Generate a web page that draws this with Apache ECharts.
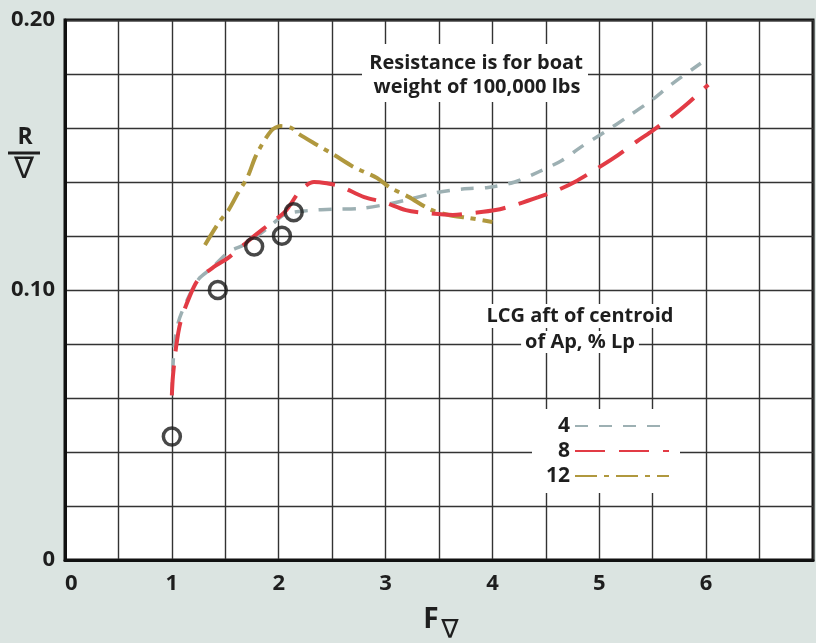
<!DOCTYPE html>
<html>
<head>
<meta charset="utf-8">
<script src="https://cdn.jsdelivr.net/npm/echarts@6/dist/echarts.min.js"></script>
<style>
  html, body { margin: 0; padding: 0; background: #dbe4e1; }
  #main { width: 816px; height: 643px; }
</style>
</head>
<body>
<div id="main"></div>
<script>
// LCG aft of centroid = 4 % Lp
var lcg4 = [[1.0, 0.061], [1.02, 0.078], [1.06, 0.088], [1.14, 0.096], [1.25, 0.104], [1.37, 0.108],
  [1.53, 0.114], [1.69, 0.117], [1.90, 0.123], [2.06, 0.128], [2.27, 0.1294], [2.52, 0.1299],
  [2.76, 0.1302], [2.98, 0.1315], [3.19, 0.1333], [3.47, 0.136], [3.72, 0.1374], [3.96, 0.138],
  [4.21, 0.140], [4.43, 0.1437], [4.65, 0.148], [4.83, 0.153], [5.05, 0.1585], [5.26, 0.164],
  [5.48, 0.170], [5.67, 0.176], [5.95, 0.184]];
// 8 % Lp
var lcg8 = [[1.0, 0.061], [1.01, 0.068], [1.04, 0.079], [1.08, 0.088], [1.16, 0.097], [1.25, 0.104],
  [1.41, 0.109], [1.53, 0.112], [1.74, 0.119], [1.90, 0.124], [2.06, 0.129], [2.20, 0.1367],
  [2.33, 0.140], [2.45, 0.1395], [2.57, 0.1385], [2.80, 0.1344], [2.98, 0.1326], [3.19, 0.1296],
  [3.38, 0.1285], [3.63, 0.1278], [3.81, 0.1285], [4.03, 0.1296], [4.21, 0.1315], [4.43, 0.1344],
  [4.61, 0.137], [4.77, 0.140], [4.98, 0.145], [5.14, 0.149], [5.35, 0.155], [5.48, 0.1585],
  [5.67, 0.164], [5.81, 0.1685], [6.02, 0.176]];
// 12 % Lp
var lcg12 = [[1.31, 0.1167], [1.44, 0.125], [1.53, 0.1296], [1.62, 0.136], [1.71, 0.142], [1.79, 0.150],
  [1.93, 0.159], [2.02, 0.1607], [2.12, 0.1600], [2.18, 0.158], [2.36, 0.1537], [2.52, 0.150],
  [2.70, 0.1456], [2.92, 0.1415], [3.04, 0.138], [3.22, 0.1344], [3.41, 0.130], [3.59, 0.1278],
  [3.78, 0.1267], [4.0, 0.1252]];
// test points (circles)
var testPts = [[1.0, 0.0457], [1.43, 0.100], [1.77, 0.1161], [2.03, 0.1201], [2.14, 0.1288]];

var xLabels = [0, 1, 2, 3, 4, 5, 6];
var yLabels = [0, 0.10, 0.20];
var legendNames = ['4', '8', '12'];

var FONT = '"Open Sans", "Noto Sans", sans-serif';
var myChart = echarts.init(document.getElementById('main'));

myChart.setOption({
  backgroundColor: '#dbe4e1',
  animation: false,
  grid: {
    left: 65, top: 20, width: 756, height: 540,
    show: true, backgroundColor: '#fff', borderColor: '#111', borderWidth: 3
  },
  xAxis: {
    type: 'value', min: 0, max: 7, interval: 0.5,
    axisLine: { show: true, lineStyle: { color: '#111', width: 3 } },
    axisTick: { show: false },
    splitLine: { show: true, lineStyle: { color: '#333', width: 1.4 } },
    axisLabel: {
      margin: 13, color: '#1e1e1e', fontSize: 22, fontWeight: 'bold', fontFamily: FONT,
      alignMinLabel: 'left',
      formatter: function (v) { return xLabels.indexOf(v) >= 0 ? String(v) : ''; }
    }
  },
  yAxis: {
    type: 'value', min: 0, max: 0.2, interval: 0.02,
    axisLine: { show: true, lineStyle: { color: '#111', width: 3 } },
    axisTick: { show: false },
    splitLine: { show: true, lineStyle: { color: '#333', width: 1.4 } },
    axisLabel: {
      margin: 10, color: '#1e1e1e', fontSize: 22, fontWeight: 'bold', fontFamily: FONT,
      formatter: function (v) {
        for (var i = 0; i < yLabels.length; i++) {
          if (Math.abs(v - yLabels[i]) < 1e-6) return v === 0 ? '0' : v.toFixed(2);
        }
        return '';
      }
    }
  },
  legend: {
    data: legendNames,
    orient: 'vertical', align: 'right',
    right: 136, top: 409,
    itemWidth: 94, itemHeight: 14, itemGap: 3,
    backgroundColor: '#fff',
    padding: [6, 10, 6, 14],
    itemStyle: { color: 'rgba(0,0,0,0)', borderWidth: 0 },
    textStyle: { color: '#1e1e1e', fontSize: 21, fontWeight: 'bold', fontFamily: FONT, lineHeight: 22 }
  },
  graphic: [
    { type: 'rect', shape: { x: 362, y: 44, width: 226, height: 58 }, style: { fill: '#fff' }, z: 50 },
    { type: 'text', x: 476, y: 63, z: 51, style: { text: 'Resistance is for boat', align: 'center', verticalAlign: 'middle', fill: '#1e1e1e', font: 'bold 20px ' + FONT } },
    { type: 'text', x: 477, y: 87, z: 51, style: { text: 'weight of 100,000 lbs', align: 'center', verticalAlign: 'middle', fill: '#1e1e1e', font: 'bold 20px ' + FONT } },
    { type: 'text', x: 580, y: 316, z: 51, style: { text: 'LCG aft of centroid', align: 'center', verticalAlign: 'middle', fill: '#1e1e1e', font: 'bold 20px ' + FONT, backgroundColor: '#fff', padding: [2, 6] } },
    { type: 'text', x: 580, y: 342, z: 51, style: { text: 'of Ap, % Lp', align: 'center', verticalAlign: 'middle', fill: '#1e1e1e', font: 'bold 20px ' + FONT, backgroundColor: '#fff', padding: [1, 4] } },
    // y axis title R / nabla
    { type: 'text', x: 25, y: 137, style: { text: 'R', align: 'center', verticalAlign: 'middle', fill: '#1e1e1e', font: 'bold 23px ' + FONT } },
    { type: 'line', shape: { x1: 8, y1: 153, x2: 40, y2: 153 }, style: { stroke: '#1e1e1e', lineWidth: 3 } },
    { type: 'text', x: 24, y: 170, style: { text: '\u2207', align: 'center', verticalAlign: 'middle', fill: '#1e1e1e', font: '30px "DejaVu Sans", sans-serif' } },
    // x axis title F nabla
    { type: 'text', x: 431, y: 620, style: { text: 'F', align: 'center', verticalAlign: 'middle', fill: '#1e1e1e', font: 'bold 28px ' + FONT } },
    { type: 'text', x: 450, y: 631, style: { text: '\u2207', align: 'center', verticalAlign: 'middle', fill: '#1e1e1e', font: '26px "DejaVu Sans", sans-serif' } }
  ],
  series: [
    {
      name: '4', type: 'line', data: lcg4, smooth: 0.3, symbol: 'none', showSymbol: false, z: 3,
      lineStyle: { color: '#9db0b3', width: 3.5, type: [13, 11] }
    },
    {
      name: '8', type: 'line', data: lcg8, smooth: 0.3, symbol: 'none', showSymbol: false, z: 4,
      lineStyle: { color: '#e23b45', width: 4, type: [30, 14] }
    },
    {
      name: '12', type: 'line', data: lcg12, smooth: 0.3, symbol: 'none', showSymbol: false, z: 3,
      lineStyle: { color: '#b0983e', width: 4, type: [22, 7, 5, 7] }
    },
    {
      name: 'test', type: 'scatter', data: testPts, symbol: 'circle', symbolSize: 17, z: 5,
      itemStyle: { color: 'rgba(255,255,255,0)', borderColor: '#1a1a1a', borderWidth: 3.5 }
    }
  ]
});
</script>
</body>
</html>
